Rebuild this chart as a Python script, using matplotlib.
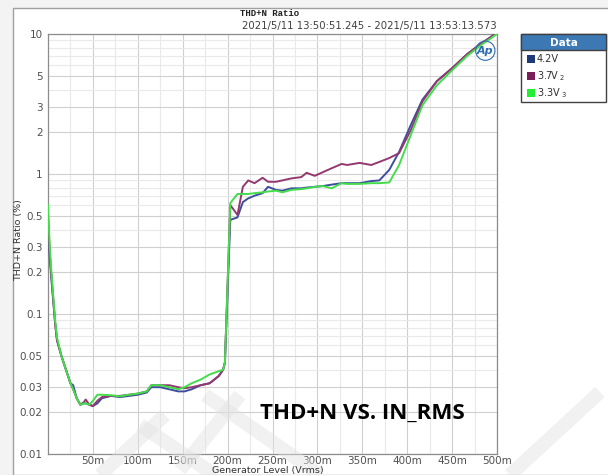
import matplotlib
matplotlib.use("Agg")
import matplotlib.pyplot as plt
import matplotlib.patches as mpatches
from matplotlib.lines import Line2D
from matplotlib.ticker import FixedLocator, FixedFormatter, NullFormatter

# ── DATA (generator level in Vrms, THD+N in %) ───────────────
x_level = [0.000, 0.002, 0.004, 0.008, 0.010, 0.015, 0.020, 0.025, 0.028, 0.032,
           0.036, 0.040, 0.042, 0.046, 0.050, 0.055, 0.060, 0.070, 0.080, 0.090,
           0.100, 0.110, 0.115, 0.125, 0.135, 0.145, 0.152, 0.160, 0.170, 0.180,
           0.190, 0.195, 0.197, 0.203, 0.211, 0.217, 0.223, 0.230, 0.239, 0.245,
           0.254, 0.261, 0.271, 0.282, 0.288, 0.297, 0.306, 0.316, 0.327, 0.333,
           0.347, 0.360, 0.369, 0.380, 0.391, 0.404, 0.417, 0.433, 0.450, 0.467,
           0.483, 0.500]

thd_42 = [0.45, 0.25, 0.17, 0.085, 0.065, 0.05, 0.04, 0.032, 0.031, 0.025,
          0.0225, 0.023, 0.023, 0.0225, 0.022, 0.023, 0.025, 0.026, 0.0255, 0.026,
          0.0265, 0.0275, 0.030, 0.030, 0.029, 0.028, 0.028, 0.029, 0.031, 0.032,
          0.036, 0.040, 0.045, 0.47, 0.49, 0.63, 0.67, 0.70, 0.73, 0.81,
          0.77, 0.76, 0.79, 0.79, 0.80, 0.81, 0.82, 0.84, 0.86, 0.86,
          0.86, 0.89, 0.90, 1.07, 1.44, 2.24, 3.4, 4.6, 5.7, 7.2,
          8.6, 10.2]

thd_37 = [0.5, 0.27, 0.18, 0.085, 0.065, 0.05, 0.04, 0.032, 0.029, 0.025,
          0.0225, 0.0235, 0.0245, 0.0225, 0.022, 0.024, 0.0255, 0.026, 0.026, 0.0265,
          0.027, 0.028, 0.031, 0.031, 0.031, 0.030, 0.0295, 0.030, 0.031, 0.032,
          0.036, 0.040, 0.045, 0.60, 0.51, 0.81, 0.90, 0.86, 0.94, 0.88,
          0.88, 0.90, 0.93, 0.95, 1.02, 0.97, 1.03, 1.10, 1.18, 1.16,
          1.20, 1.16, 1.22, 1.30, 1.41, 2.06, 3.3, 4.6, 5.7, 7.2,
          8.6, 10.2]

thd_33 = [0.6, 0.3, 0.19, 0.09, 0.068, 0.05, 0.04, 0.032, 0.029, 0.025,
          0.0225, 0.023, 0.023, 0.0225, 0.024, 0.0265, 0.0265, 0.0263, 0.0258, 0.0265,
          0.027, 0.028, 0.031, 0.031, 0.030, 0.029, 0.030, 0.032, 0.034, 0.037,
          0.039, 0.040, 0.045, 0.62, 0.72, 0.72, 0.72, 0.73, 0.74, 0.75,
          0.76, 0.74, 0.77, 0.78, 0.79, 0.81, 0.82, 0.79, 0.86, 0.85,
          0.85, 0.86, 0.86, 0.87, 1.16, 1.9, 3.1, 4.3, 5.5, 7.0,
          8.4, 10.0]

series_names = ["4.2V", "3.7V$_{\\ 2}$", "3.3V$_{\\ 3}$"]
line_colors = ["#3C4E9E", "#93396F", "#43DD4B"]
legend_colors = ["#1F3A7A", "#7A1E58", "#22EE33"]

y_ticks = [0.01, 0.02, 0.03, 0.05, 0.1, 0.2, 0.3, 0.5, 1, 2, 3, 5, 10]
y_labels = ["0.01", "0.02", "0.03", "0.05", "0.1", "0.2", "0.3", "0.5",
            "1", "2", "3", "5", "10"]
y_minor = [0.04, 0.06, 0.07, 0.08, 0.09, 0.4, 0.6, 0.7, 0.8, 0.9,
           4, 6, 7, 8, 9]
x_ticks = [0.05, 0.1, 0.15, 0.2, 0.25, 0.3, 0.35, 0.4, 0.45, 0.5]
x_labels = ["50m", "100m", "150m", "200m", "250m", "300m", "350m",
            "400m", "450m", "500m"]
x_minor = [0.025, 0.075, 0.125, 0.175, 0.225, 0.275, 0.325, 0.375, 0.425, 0.475]

W, H = 608, 475


def fx(px):
    return px / W


def fy(py):
    return 1 - py / H


# ── FIGURE ───────────────────────────────────────────────────
fig = plt.figure(figsize=(W / 100, H / 100), dpi=100)
fig.patch.set_facecolor("#F3F3F3")
fig.add_artist(mpatches.Rectangle((fx(13), 0), 1, fy(8), transform=fig.transFigure,
                                  facecolor="white", edgecolor="#A0A0A0", lw=1.0, zorder=0))

ax = fig.add_axes([fx(48), fy(454), fx(497) - fx(48), fy(34) - fy(454)])
ax.set_yscale("log")
ax.set_xlim(0, 0.5)
ax.set_ylim(0.01, 10)

for vals, col in zip([thd_42, thd_37, thd_33], line_colors):
    ax.plot(x_level, vals, color=col, lw=1.4, zorder=3)

ax.yaxis.set_major_locator(FixedLocator(y_ticks))
ax.yaxis.set_major_formatter(FixedFormatter(y_labels))
ax.yaxis.set_minor_locator(FixedLocator(y_minor))
ax.yaxis.set_minor_formatter(NullFormatter())
ax.xaxis.set_major_locator(FixedLocator(x_ticks))
ax.xaxis.set_major_formatter(FixedFormatter(x_labels))
ax.xaxis.set_minor_locator(FixedLocator(x_minor))

ax.grid(which="major", color="#CFCFCF", lw=0.8)
ax.grid(which="minor", color="#E9E9E9", lw=0.8)
ax.set_axisbelow(True)
ax.tick_params(which="both", length=0, labelsize=7.5, labelcolor="#505050")
ax.tick_params(axis="y", pad=4)
ax.tick_params(axis="x", pad=1.5)
for s in ax.spines.values():
    s.set_color("#8C8C8C")
    s.set_linewidth(0.9)

# AP logo
ax.text(0.487, 7.6, "Ap", color="#2E6DB4", fontsize=8, fontweight="bold",
        fontstyle="italic", ha="center", va="center", zorder=4,
        bbox=dict(boxstyle="circle,pad=0.12", fc="none", ec="#2E6DB4", lw=0.8))

# titles and labels
fig.text(fx(270), fy(13), "THD+N Ratio", fontsize=6.5, fontweight="bold",
         family="Liberation Mono", ha="center", va="center", color="#202020")
fig.text(fx(497), fy(26), "2021/5/11 13:50:51.245 - 2021/5/11 13:53:13.573",
         fontsize=7.3, ha="right", va="center", color="#404040")
fig.text(fx(19), fy(240), "THD+N Ratio (%)", fontsize=6.8, rotation=90,
         ha="center", va="center", color="#303030")
fig.text(fx(268), fy(475), "Generator Level (Vrms)", fontsize=6.8,
         ha="center", va="bottom", color="#303030")
fig.text(fx(362), fy(413), "THD+N VS. IN_RMS", fontsize=16, fontweight="bold",
         family="Open Sans", ha="center", va="center", color="black", zorder=6)

# ── LEGEND BOX ───────────────────────────────────────────────
lx0, ly0, lx1, ly1 = 521, 34, 606, 102
fig.add_artist(mpatches.Rectangle((fx(lx0), fy(ly1)), fx(lx1) - fx(lx0), fy(ly0) - fy(ly1),
                                  transform=fig.transFigure, facecolor="white",
                                  edgecolor="#404040", lw=1.0, zorder=5))
fig.add_artist(mpatches.Rectangle((fx(lx0), fy(50)), fx(lx1) - fx(lx0), fy(ly0) - fy(50),
                                  transform=fig.transFigure, facecolor="#3C79B4",
                                  edgecolor="#404040", lw=1.0, zorder=5))
fig.text(fx((lx0 + lx1) / 2), fy(42.5), "Data", fontsize=7.5, fontweight="bold",
         color="white", ha="center", va="center", zorder=6)
for i, (name, col) in enumerate(zip(series_names, legend_colors)):
    yy = 59 + i * 17
    fig.add_artist(mpatches.Rectangle((fx(527), fy(yy + 4)), fx(8), fy(0) - fy(8),
                                      transform=fig.transFigure, facecolor=col,
                                      edgecolor="none", zorder=6))
    fig.text(fx(537), fy(yy), name, fontsize=7, color="#303030",
             ha="left", va="center", zorder=6)

# ── WATERMARK STROKES (faint) ────────────────────────────────
strokes = [((100, 475), (165, 415)), ((140, 425), (215, 475)),
           ((180, 470), (240, 395)), ((205, 395), (320, 475)),
           ((510, 475), (600, 392))]
for (x0, y0), (x1, y1) in strokes:
    fig.add_artist(Line2D([fx(x0), fx(x1)], [fy(y0), fy(y1)], transform=fig.transFigure,
                          color="#E2E2E2", lw=10, alpha=0.45, solid_capstyle="butt", zorder=1))

fig.savefig("out.png", dpi=100, facecolor=fig.get_facecolor())
